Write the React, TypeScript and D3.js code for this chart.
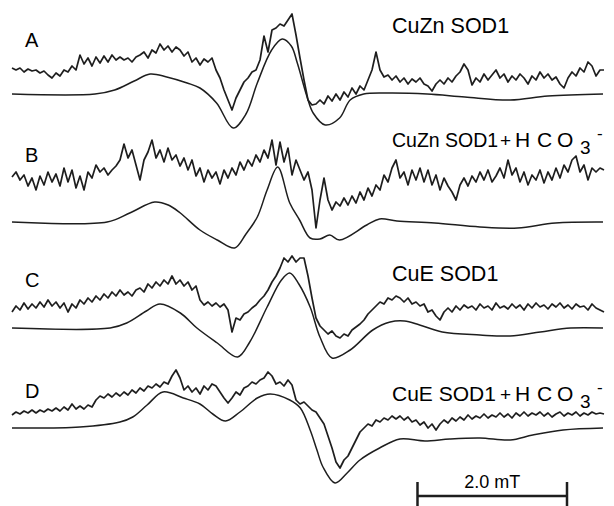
import React from "react";
import * as d3 from "d3";

// ---- Data (field in mT, amplitude in arbitrary units) ----
const FIELD_SPAN = 7.84; // mT covered by each recorded trace
const SCALE_BAR = [5.37, 7.35]; // 2.0 mT bar
const SCALE_LABEL = "2.0 mT";

const PANEL_LETTERS = ["A", "B", "C", "D"];
const SAMPLE_NAMES = ["CuZn SOD1", "CuZn SOD1", "CuE SOD1", "CuE SOD1"];
const HAS_BICARB = [false, true, false, true];

// experimental (noisy) spectra, uniform field steps
const A_EXP = [
  26, 24, 26, 22, 25, 23, 24, 21, 23, 19,
  16, 21, 18, 24, 22, 28, 24, 39, 30, 36,
  28, 37, 31, 38, 32, 39, 34, 37, 34, 36,
  32, 37, 39, 42, 36, 44, 41, 50, 44, 48,
  42, 47, 44, 38, 42, 32, 36, 29, 35, 32,
  36, 24, 16, 4, -6, -16, -4, 4, 12, 16,
  22, 24, 34, 58, 42, 64, 66, 70, 68, 74,
  80, 59, 36, 14, -6, -11, -10, -6, -10, -2,
  -7, 0, -6, 2, -3, 6, 0, 8, 4, 14,
  24, 42, 24, 17, 19, 14, 18, 12, 16, 10,
  15, 12, 16, 10, 8, 3, 10, 14, 10, 16,
  12, 18, 22, 30, 24, 9, 16, 12, 20, 14,
  19, 24, 16, 20, 12, 18, 14, 20, 16, 10,
  18, 14, 22, 16, 20, 14, 17, 10, 6, 16,
  22, 18, 26, 22, 32, 28, 18, 24, 24,
];
const B_EXP = [
  45, 50, 42, 47, 36, 44, 32, 46, 37, 50,
  40, 48, 36, 54, 40, 52, 34, 46, 32, 50,
  44, 57, 50, 54, 47, 52, 56, 62, 78, 64,
  72, 57, 42, 62, 70, 82, 64, 72, 60, 74,
  62, 67, 56, 64, 52, 62, 46, 54, 40, 52,
  44, 50, 38, 52, 44, 54, 47, 60, 52, 62,
  56, 67, 60, 72, 64, 82, 57, 80, 60, 74,
  47, 62, 52, 42, 50, 32, -6, 22, 44, 22,
  12, 20, 16, 24, 17, 26, 19, 30, 22, 34,
  26, 37, 32, 47, 40, 54, 62, 44, 50, 37,
  52, 42, 54, 40, 52, 37, 47, 32, 44, 36,
  30, 22, 37, 44, 36, 46, 40, 50, 42, 52,
  40, 46, 54, 44, 62, 47, 54, 40, 50, 37,
  47, 42, 52, 39, 50, 42, 54, 44, 57, 50,
  62, 66, 50, 57, 42, 54, 50, 54, 52,
];
const C_EXP = [
  16, 22, 18, 25, 19, 24, 20, 26, 21, 28,
  22, 26, 20, 25, 16, 24, 20, 28, 24, 30,
  26, 32, 28, 34, 30, 36, 32, 38, 33, 36,
  32, 38, 40, 36, 44, 40, 46, 42, 48, 44,
  52, 44, 48, 42, 46, 38, 42, 28, 23, 26,
  22, 25, 21, 24, 18, -4, 10, 8, 14, 16,
  20, 23, 28, 32, 38, 46, 52, 60, 70, 66,
  72, 66, 70, 70, 52, 30, 10, 2, -2, -6,
  -3, -8, -10, -6, -8, -2, 1, 4, 8, 14,
  18, 22, 26, 24, 30, 28, 32, 30, 26, 30,
  24, 26, 22, 24, 16, 18, 12, 8, 16, 20,
  16, 22, 18, 23, 20, 22, 18, 24, 20, 22,
  18, 25, 20, 22, 19, 24, 20, 23, 18, 24,
  20, 25, 21, 23, 19, 24, 21, 25, 20, 23,
  19, 24, 21, 22, 18, 24, 20, 18, 16,
];
const D_EXP = [
  13, 16, 14, 17, 15, 18, 15, 18, 16, 19,
  17, 20, 17, 21, 18, 24, 19, 22, 19, 23,
  21, 28, 32, 30, 34, 31, 35, 32, 36, 33,
  38, 35, 40, 37, 42, 40, 44, 41, 46, 44,
  52, 58, 50, 38, 42, 36, 40, 34, 42, 38,
  44, 42, 36, 30, 25, 30, 36, 33, 40, 42,
  46, 44, 48, 50, 56, 52, 44, 46, 42, 48,
  43, 28, 24, 26, 22, 18, 16, 10, 4, -8,
  -20, -34, -40, -32, -28, -20, -12, -4, 0, 4,
  2, 8, 6, 10, 8, 12, 9, 12, 8, 11,
  6, 8, 3, 6, 0, 4, -2, 4, 8, 5,
  10, 7, 11, 8, 13, 9, 12, 10, 14, 10,
  13, 11, 15, 11, 14, 10, 15, 12, 16, 12,
  15, 13, 16, 12, 15, 11, 14, 16, 12, 15,
  13, 16, 12, 15, 13, 16, 14, 15, 14,
];

// simulated spectra: [field mT, amplitude]
const A_SIM: [number, number][] = [
  [0, 0], [1.1, 0], [1.36, 4], [1.62, 13], [1.83, 20], [2.05, 17], [2.32, 11],
  [2.49, 6], [2.71, -9], [2.93, -34], [3.1, -20], [3.25, 11], [3.44, 44],
  [3.58, 55], [3.7, 48], [3.78, 31], [3.91, -3], [3.99, -19], [4.15, -31],
  [4.34, -24], [4.48, -6], [4.66, 0], [5.0, 1], [5.5, 0], [6.0, -3], [6.6, -6],
  [7.1, -2], [7.83, 0],
];
const B_SIM: [number, number][] = [
  [0, 0], [1.26, 0], [1.56, 9], [1.89, 20], [2.07, 17], [2.23, 9], [2.49, -8],
  [2.72, -18], [2.95, -26], [3.1, -12], [3.25, 5], [3.38, 32], [3.52, 55],
  [3.68, 19], [3.81, 2], [3.95, -16], [4.08, -17], [4.21, -13], [4.34, -18],
  [4.7, -3], [4.87, 3], [5.1, 1], [5.6, -1], [6.2, -5], [6.7, -6], [7.2, -1],
  [7.83, 0],
];
const C_SIM: [number, number][] = [
  [0, 0], [1.3, 0], [1.52, 5], [1.78, 17], [1.96, 24], [2.23, 15], [2.45, 0],
  [2.72, -15], [2.99, -29], [3.15, -14], [3.38, 21], [3.57, 48], [3.68, 55],
  [3.8, 44], [3.95, 21], [4.08, -9], [4.24, -30], [4.48, -22], [4.78, -2],
  [5.01, 6], [5.2, 7], [5.4, 3], [5.7, -4], [6.2, -7], [6.6, -8], [7.0, -4],
  [7.4, 0], [7.83, 0],
];
const D_SIM: [number, number][] = [
  [0, 0], [0.9, 1], [1.43, 6], [1.6, 11], [1.79, 23], [2.0, 36], [2.27, 30],
  [2.49, 24], [2.66, 14], [2.83, 7], [3.02, 16], [3.25, 30], [3.42, 34],
  [3.68, 28], [3.82, 20], [3.95, -2], [4.04, -22], [4.12, -39], [4.28, -55],
  [4.44, -45], [4.61, -32], [4.87, -20], [5.14, -11], [5.47, -13], [5.8, -11],
  [6.2, -10], [6.6, -12], [6.9, -7], [7.3, -2], [7.83, 0],
];

const EXP = [A_EXP, B_EXP, C_EXP, D_EXP];
const SIM = [A_SIM, B_SIM, C_SIM, D_SIM];

// ---- Layout ----
const W = 614;
const H = 506;
const BASELINES = [94, 222, 328, 428];
const LETTER_Y = [47, 162, 287, 398];
const TITLE_Y = [33, 147, 281, 401];
const TITLE_SIZE = [21.5, 19.5, 21.5, 21];
const FONT = "'Liberation Sans', Arial, Helvetica, sans-serif";
const INK = "#1e1e1e";

export default function App() {
  const x = d3.scaleLinear().domain([0, FIELD_SPAN]).range([12, 604]);
  const xSim = d3.scaleLinear().domain([0, 7.83]).range([12, 603]);

  return (
    <svg
      width={W}
      height={H}
      viewBox={`0 0 ${W} ${H}`}
      style={{ position: "absolute", left: 0, top: 0, background: "#fff" }}
    >
      <rect width={W} height={H} fill="#fff" />
      {PANEL_LETTERS.map((letter, k) => {
        const base = BASELINES[k];
        const y = d3.scaleLinear().domain([-100, 100]).range([base + 100, base - 100]);
        const expPts: [number, number][] = EXP[k].map((v, i, arr) => [
          (i * FIELD_SPAN) / (arr.length - 1),
          v,
        ]);
        const expLine = d3
          .line<[number, number]>()
          .x((d) => x(d[0]))
          .y((d) => y(d[1]));
        const simLine = d3
          .line<[number, number]>()
          .x((d) => xSim(d[0]))
          .y((d) => y(d[1]))
          .curve(d3.curveCatmullRom.alpha(0.5));
        return (
          <g key={letter}>
            <path d={simLine(SIM[k]) || ""} fill="none" stroke={INK} strokeWidth={1.5} strokeLinejoin="round" />
            <path d={expLine(expPts) || ""} fill="none" stroke={INK} strokeWidth={1.7} strokeLinejoin="round" />
            <text x={25} y={LETTER_Y[k]} fontFamily={FONT} fontSize={20} fill="#000">
              {letter}
            </text>
            <text x={392} y={TITLE_Y[k]} fontFamily={FONT} fontSize={TITLE_SIZE[k]} fill="#000">
              {SAMPLE_NAMES[k]}
            </text>
            {HAS_BICARB[k] && (
              <g fontFamily={FONT} fill="#000">
                <text x={500} y={TITLE_Y[k]} fontSize={19}>+</text>
                <text x={515} y={TITLE_Y[k]} fontSize={21}>H</text>
                <text x={537} y={TITLE_Y[k]} fontSize={21}>C</text>
                <text x={557} y={TITLE_Y[k]} fontSize={21}>O</text>
                <text x={580} y={TITLE_Y[k] + 7} fontSize={19}>3</text>
                <text x={597} y={TITLE_Y[k] - 8} fontSize={17}>-</text>
              </g>
            )}
          </g>
        );
      })}
      <g stroke={INK} strokeWidth={2.5}>
        <line x1={x(SCALE_BAR[0])} x2={x(SCALE_BAR[1])} y1={496} y2={496} />
        <line x1={x(SCALE_BAR[0])} x2={x(SCALE_BAR[0])} y1={482} y2={506} />
        <line x1={x(SCALE_BAR[1])} x2={x(SCALE_BAR[1])} y1={482} y2={506} />
      </g>
      <text
        x={(x(SCALE_BAR[0]) + x(SCALE_BAR[1])) / 2}
        y={488}
        textAnchor="middle"
        fontFamily={FONT}
        fontSize={18}
        fill="#000"
      >
        {SCALE_LABEL}
      </text>
    </svg>
  );
}
